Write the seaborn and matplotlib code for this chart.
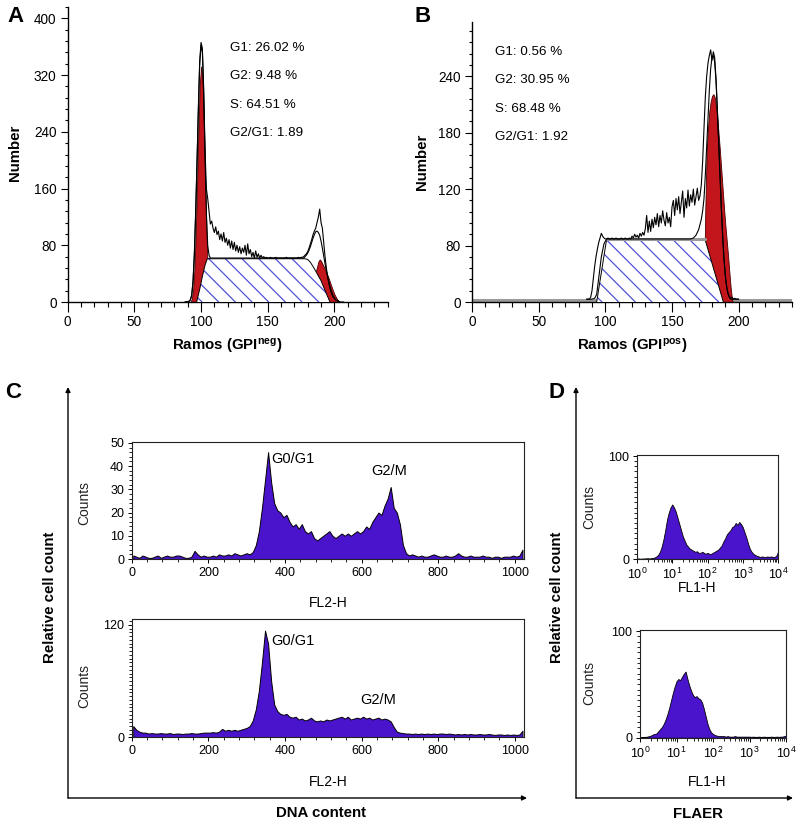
import matplotlib
matplotlib.use("Agg")
import matplotlib.pyplot as plt
import numpy as np
import pandas as pd
import seaborn as sns
from matplotlib.patches import FancyArrowPatch
from matplotlib.ticker import FixedLocator, MultipleLocator, LogLocator, NullFormatter, LogFormatterMathtext

W, H = 800, 825
RED = "#c3161c"
PURPLE = "#4a14cc"
HATCH = "#5252d6"

# ---------------- panel A: Ramos GPI-neg, ModFit histogram ----------------
a_channel = np.arange(88, 208)
a_raw = [0, 0, 0, 1, 3, 10, 30, 70, 130, 200,
         275, 340, 366, 358, 300, 215, 160, 146, 128, 110,
         114, 104, 98, 106, 95, 100, 88, 96, 86, 98,
         84, 90, 80, 88, 76, 86, 74, 84, 72, 80,
         70, 78, 68, 76, 70, 80, 66, 82, 68, 74,
         64, 70, 62, 72, 63, 68, 62, 66, 62, 64,
         62, 63, 62, 62, 63, 62, 62, 62, 63, 62,
         62, 62, 62, 62, 62, 62, 63, 62, 62, 62,
         62, 62, 62, 62, 62, 63, 62, 63, 63, 64,
         66, 68, 71, 76, 82, 88, 95, 100, 104, 112,
         120, 131, 112, 104, 84, 64, 48, 35, 25, 17,
         11, 7, 5, 3, 2, 1, 0, 0, 0, 0]
a_fit_x = [88, 91, 92, 93, 94, 95, 96, 97, 98, 99, 100, 101, 102, 103, 104, 105, 106, 107,
           177, 178, 179, 180, 181, 182, 183, 184, 185, 186, 187, 188, 189, 190,
           191, 192, 193, 194, 195, 196, 197, 198, 199, 200, 201, 202, 203, 204]
a_fit_y = [0, 1, 3, 9, 28, 65, 125, 195, 270, 335, 362, 352, 295, 205, 125, 80, 66, 62,
           62, 64, 66, 69, 73, 78, 84, 90, 95, 99, 100, 98, 94, 86,
           76, 65, 54, 44, 35, 27, 20, 14, 9, 6, 3, 2, 1, 0]
a_g1_x = [92, 93, 94, 95, 96, 97, 98, 99, 100, 101, 102, 103, 104, 104.7, 106, 106.1]
a_g1_y = [0, 4, 16, 45, 95, 165, 240, 305, 332, 318, 262, 180, 105, 62, 62, 0]
a_g2_x = [180, 182, 184, 186, 188, 189, 190, 192, 194, 196, 198, 200, 202, 204]
a_g2_y = [0, 6, 22, 42, 57, 60, 58, 50, 42, 32, 21, 11, 4, 0]
a_s_x = [96.7, 99, 101, 103, 104.7, 178, 180, 182, 185, 190, 194, 196.7]
a_s_y = [0, 18, 36, 52, 61, 61, 60, 56, 47, 30, 12, 0]
a_stats = ["G1: 26.02 %", "G2: 9.48 %", "S: 64.51 %", "G2/G1: 1.89"]

# ---------------- panel B: Ramos GPI-pos ----------------
b_channel = np.arange(86, 201)
b_raw = [3, 3, 3, 5, 12, 25, 38, 48, 56, 63,
         68, 73, 70, 68, 67, 67, 68, 67, 67, 68,
         67, 67, 68, 67, 67, 67, 68, 67, 67, 68,
         67, 67, 68, 67, 70, 68, 72, 69, 71, 68,
         73, 70, 74, 71, 78, 92, 74, 86, 75, 88,
         79, 90, 82, 94, 80, 92, 84, 97, 87, 81,
         95, 84, 90, 80, 101, 108, 92, 110, 98, 112,
         94, 106, 118, 90, 110, 100, 119, 102, 114, 106,
         120, 103, 112, 121, 108, 113, 125, 150, 185, 218,
         240, 254, 262, 268, 257, 266, 260, 238, 205, 170,
         135, 100, 70, 46, 28, 16, 9, 6, 4, 5,
         3, 4, 3, 3, 3]
b_fit_x = [86, 90, 92, 93.5, 95, 97, 99, 101, 164, 166, 168, 170, 172,
           173, 174, 175, 176, 177, 178, 179, 180, 181, 182, 183, 184, 185, 186,
           187, 188, 189, 190, 191, 192, 193, 194, 195, 200]
b_fit_y = [3, 3, 4, 8, 25, 48, 62, 67, 67, 68, 71, 77, 88,
           97, 110, 135, 165, 195, 225, 248, 260, 262, 255, 235, 205, 170, 135,
           100, 70, 46, 28, 16, 9, 5, 3, 3, 3]
b_g2_x = [174.5, 174.6, 175, 176, 177, 178, 179, 180, 181, 182, 183, 184, 185, 186,
          187, 188, 189, 190, 191, 192, 193, 194, 195, 195.5]
b_g2_y = [0, 67, 100, 160, 185, 203, 213, 219, 221, 218, 208, 195, 178, 160,
          140, 120, 100, 82, 66, 50, 32, 15, 3, 0]
b_s_x = [93.5, 101, 174.7, 188.5]
b_s_y = [0, 67, 67, 0]
b_stats = ["G1: 0.56 %", "G2: 30.95 %", "S: 68.48 %", "G2/G1: 1.92"]
b_ytick_values = [0, 60, 120, 180, 240]
b_ytick_labels = ["0", "80", "120", "180", "240"]

# ---------------- panel C: DNA content (FL2-H), 8-channel bins ----------------
c_channel = np.arange(0, 1024, 8)
c_top = [1.5, 1, 0.5, 1.5, 1, 0.5, 0.5, 1, 1.5, 0.5,
         1, 1.5, 1, 1, 1.5, 1.5, 1, 0.5, 0.5, 1,
         3.5, 2, 1, 1.5, 1, 1, 1.5, 1, 2, 1.5,
         1.5, 2, 1.5, 2.5, 2, 1.5, 2, 2.5, 2, 3,
         6, 12, 22, 34, 46, 33, 24, 21, 20, 18,
         19, 16, 14, 15, 13, 15, 12, 11, 12, 9,
         8, 9, 10, 11, 12, 10, 9, 10, 11, 10,
         11, 10, 11, 12, 11, 12, 14, 13, 16, 18,
         20, 19, 23, 26, 31, 22, 20, 15, 6, 2.5,
         1.5, 2, 1.5, 1, 1.5, 1, 1, 1.5, 2, 1.5,
         1, 1, 1.5, 1, 1, 1.5, 2.5, 1.5, 1, 1,
         1.5, 1, 1, 1, 1.5, 1, 1, 0.5, 1, 1,
         0.5, 1, 1, 1, 1.5, 1, 1.5, 4]
c_bottom = [12, 8, 6, 5, 5, 4, 4.5, 4, 4, 4.5,
            4, 4, 4.5, 3.5, 4, 4, 3.5, 4, 4, 4.5,
            4, 4, 4.5, 5, 5, 5, 5.5, 5, 6, 9,
            7, 8, 7, 8, 7, 8, 9, 10, 12, 18,
            30, 50, 80, 114, 100, 60, 35, 28, 25, 24,
            25, 22, 21, 22, 19, 20, 18, 19, 21, 18,
            17, 18, 17, 19, 18, 19, 20, 21, 22, 20,
            22, 19, 20, 21, 20, 22, 20, 21, 19, 20,
            21, 19, 20, 19, 17, 11, 6, 5, 4.5, 4,
            4, 3.5, 4, 3.5, 4, 3.5, 4, 3.5, 4, 3.5,
            4, 4, 3.5, 4, 3.5, 3, 3.5, 3, 3.5, 3,
            3.5, 3, 3, 3.5, 3, 3, 3.5, 3, 2.5, 3,
            3, 2.5, 3, 2.5, 3, 2.5, 3, 7]

# ---------------- panel D: FLAER (FL1-H), log10 channel positions ----------------
d_log = np.arange(0, 4.001, 0.05)
d_top = [0.5, 0.5, 0.3, 0.5, 0.5, 0.6, 0.8, 0.5, 0.8, 1,
         1.5, 2.5, 4, 7, 12, 19, 28, 38, 45, 50,
         53, 50, 46, 40, 34, 28, 22, 18, 14, 12,
         10, 9, 8, 7, 7.5, 6, 6, 7, 6, 5,
         6, 5, 5, 6, 7, 8, 9, 11, 13, 17,
         20, 24, 26, 28, 31, 32, 35, 33, 36, 34,
         31, 26, 21, 15, 10, 7, 5, 4, 3, 2.5,
         2, 2.5, 2, 2, 2.5, 2, 2.5, 2, 2, 3, 7]
d_bottom = [0.5, 0.5, 0.8, 0.8, 1, 1.5, 2, 3, 3.5, 4,
            6, 8, 10, 13, 17, 22, 28, 35, 42, 48,
            53, 55, 54, 57, 60, 62, 55, 49, 44, 40,
            38, 39, 37, 36, 33, 27, 20, 13, 8, 5,
            3.5, 2.5, 2, 1.5, 1.5, 1.5, 1.5, 1, 1.5, 1,
            1, 1, 1.5, 1, 1, 1, 1, 1, 1, 1,
            1, 0.8, 1, 0.8, 0.8, 1, 0.8, 0.8, 1, 0.8,
            0.8, 0.8, 1, 0.8, 0.8, 1, 0.8, 1, 1, 1.5, 2]


def fxy(x, y):
    """像素坐标 -> figure 坐标"""
    return x / W, 1 - y / H


def axes_px(fig, left, top, right, bottom):
    return fig.add_axes([left / W, 1 - bottom / H, (right - left) / W, (bottom - top) / H])


def style_modfit(ax, ymax, yticks, ylabels, yminor):
    ax.set_xlim(0, 240)
    ax.set_ylim(0, ymax)
    sns.despine(ax=ax)
    ax.xaxis.set_major_locator(FixedLocator([0, 50, 100, 150, 200]))
    ax.xaxis.set_minor_locator(MultipleLocator(10))
    ax.set_yticks(yticks)
    ax.set_yticklabels(ylabels)
    ax.yaxis.set_minor_locator(MultipleLocator(yminor))
    ax.tick_params(axis="x", which="major", length=7, width=0.8, pad=2.5, labelsize=9.8)
    ax.tick_params(axis="x", which="minor", length=3.3, width=0.8)
    ax.tick_params(axis="y", which="major", length=5, width=0.8, pad=3, labelsize=9.8)
    ax.tick_params(axis="y", which="minor", length=2.2, width=0.8)
    for side in ("left", "bottom"):
        ax.spines[side].set_linewidth(1.0)
        ax.spines[side].set_color("black")
    ax.set_xlabel("")
    ax.set_ylabel("")


def style_flow(ax):
    for side in ax.spines.values():
        side.set_linewidth(0.8)
        side.set_color("#222222")
        side.set_visible(True)
    ax.tick_params(which="major", length=3, width=0.7, pad=2.5, labelsize=9, colors="black")
    ax.tick_params(which="minor", length=2, width=0.6)
    ax.set_xlabel("")
    ax.set_ylabel("")


sns.set_theme(style="ticks")
plt.rcParams["font.family"] = ["Liberation Sans", "DejaVu Sans"]
plt.rcParams["mathtext.fontset"] = "custom"
plt.rcParams["mathtext.rm"] = "Liberation Sans"
plt.rcParams["mathtext.bf"] = "Liberation Sans:bold"
plt.rcParams["mathtext.it"] = "Liberation Sans:italic"
plt.rcParams["hatch.linewidth"] = 0.9
for key in ("text.color", "axes.labelcolor", "xtick.color", "ytick.color", "axes.edgecolor"):
    plt.rcParams[key] = "black"

fig = plt.figure(figsize=(W / 100, H / 100), dpi=100)

# ---- A ----
ax_a = axes_px(fig, 67.7, 7, 387.7, 302)
ax_a.fill_between(a_g1_x, a_g1_y, color=RED, edgecolor="#4a0000", linewidth=0.6, zorder=2)
ax_a.fill_between(a_g2_x, a_g2_y, color=RED, edgecolor="#4a0000", linewidth=0.6, zorder=2)
ax_a.fill_between(a_s_x, a_s_y, facecolor="white", edgecolor=HATCH, hatch="\\\\", linewidth=0, zorder=3)
ax_a.plot(a_s_x, a_s_y, color="black", linewidth=0.7, zorder=3.5)
sns.lineplot(x=a_fit_x, y=a_fit_y, color="black", linewidth=0.8, estimator=None, sort=False, ax=ax_a, zorder=4)
sns.lineplot(x=a_channel, y=a_raw, color="black", linewidth=0.8, estimator=None, ax=ax_a, zorder=5)
style_modfit(ax_a, 416, [0, 80, 160, 240, 320, 400], ["0", "80", "160", "240", "320", "400"], 16)
for i, s in enumerate(a_stats):
    fig.text(*fxy(230, 48 + 28.3 * i), s, fontsize=9.6, ha="left", va="center")

# ---- B ----
ax_b = axes_px(fig, 472, 21.7, 792, 302)
ax_b.plot([0, 240], [2, 2], color="#9a9a9a", linewidth=2.2, zorder=1.5, solid_capstyle="butt")
ax_b.fill_between(b_g2_x, b_g2_y, color=RED, edgecolor="#4a0000", linewidth=0.6, zorder=2)
ax_b.fill_between(b_s_x, b_s_y, facecolor="white", edgecolor=HATCH, hatch="\\\\", linewidth=0, zorder=3)
ax_b.plot(b_s_x, b_s_y, color="black", linewidth=0.7, zorder=3.5)
ax_b.plot(b_s_x[1:3], b_s_y[1:3], color="#9a9a9a", linewidth=2.2, zorder=3.6)
sns.lineplot(x=b_fit_x, y=b_fit_y, color="black", linewidth=0.8, estimator=None, sort=False, ax=ax_b, zorder=4)
sns.lineplot(x=b_channel, y=b_raw, color="black", linewidth=0.8, estimator=None, ax=ax_b, zorder=5)
style_modfit(ax_b, 298, b_ytick_values, b_ytick_labels, 12)
for i, s in enumerate(b_stats):
    fig.text(*fxy(495, 52 + 28.3 * i), s, fontsize=9.6, ha="left", va="center")

# ---- C ----
for (top, bottom, counts, ymax, ymajor, yminor, lab_g1, lab_g2) in [
    (441.7, 559, c_top, 50.5, [0, 10, 20, 30, 40, 50], 2, (363, 43), (672, 38)),
    (619, 737.3, c_bottom, 126.4, [0, 120], 4, (363, 103), (643, 40)),
]:
    ax = axes_px(fig, 131.7, top, 524, bottom)
    hist_df = pd.DataFrame({"channel": c_channel + 4, "counts": counts})
    sns.histplot(data=hist_df, x="channel", weights="counts", binwidth=8, binrange=(0, 1024),
                 element="poly", fill=True, color=PURPLE, alpha=1, edgecolor="black",
                 linewidth=0.7, ax=ax)
    ax.set_xlim(0, 1024)
    ax.set_ylim(0, ymax)
    ax.set_xticks([0, 200, 400, 600, 800, 1000])
    ax.xaxis.set_minor_locator(MultipleLocator(40))
    ax.set_yticks(ymajor)
    ax.yaxis.set_minor_locator(MultipleLocator(yminor))
    style_flow(ax)
    ax.text(*lab_g1, "G0/G1", fontsize=10.5, ha="left", va="center")
    ax.text(*lab_g2, "G2/M", fontsize=10.5, ha="center", va="center")

for y in (503, 686):
    fig.text(*fxy(84, y), "Counts", fontsize=10, rotation=90, ha="center", va="center", color="#222222")
for y in (603, 782):
    fig.text(*fxy(328, y), "FL2-H", fontsize=10, ha="center", va="center")

# ---- D ----
for (left, top, right, bottom, counts) in [
    (637, 455, 778, 559, d_top),
    (640, 630, 786, 737.7, d_bottom),
]:
    ax = axes_px(fig, left, top, right, bottom)
    ax.fill_between(10 ** d_log, counts, facecolor=PURPLE, edgecolor="black", linewidth=0.6)
    ax.set_xscale("log")
    ax.set_xlim(1, 1e4)
    ax.set_ylim(0, 101)
    ax.xaxis.set_major_locator(LogLocator(base=10, numticks=10))
    ax.xaxis.set_major_formatter(LogFormatterMathtext())
    ax.xaxis.set_minor_locator(LogLocator(base=10, subs=np.arange(2, 10), numticks=10))
    ax.xaxis.set_minor_formatter(NullFormatter())
    ax.set_yticks([0, 100])
    ax.yaxis.set_minor_locator(MultipleLocator(5))
    style_flow(ax)

for y in (507, 683):
    fig.text(*fxy(589, y), "Counts", fontsize=10, rotation=90, ha="center", va="center", color="#222222")
fig.text(*fxy(697, 588), "FL1-H", fontsize=10, ha="center", va="center")
fig.text(*fxy(707, 782), "FL1-H", fontsize=10, ha="center", va="center")

# ---- 外框箭头与大标签 ----
for (x0, x1) in [(68, 527), (576, 793)]:
    for end in [(x0, 387), (x1, 798)]:
        fig.add_artist(FancyArrowPatch(fxy(x0, 798), fxy(*end), transform=fig.transFigure,
                                       arrowstyle="-|>", mutation_scale=7, linewidth=1.0,
                                       color="black", shrinkA=0, shrinkB=0))

bold = dict(fontsize=10.8, fontweight="bold", ha="center", va="center")
fig.text(*fxy(15, 153), "Number", rotation=90, **bold)
fig.text(*fxy(422, 162), "Number", rotation=90, **bold)
fig.text(*fxy(227, 346), r"Ramos (GPI$^{\mathbf{neg}}$)", **bold)
fig.text(*fxy(632, 346), r"Ramos (GPI$^{\mathbf{pos}}$)", **bold)
fig.text(*fxy(50, 597), "Relative cell count", rotation=90, **bold)
fig.text(*fxy(557, 597), "Relative cell count", rotation=90, **bold)
fig.text(*fxy(321, 813), "DNA content", **bold)
fig.text(*fxy(698, 814), "FLAER", **bold)

letters = dict(fontsize=16, fontweight="bold", ha="center", va="center")
for letter, x, y in [("A", 15, 17), ("B", 423, 17), ("C", 13, 393), ("D", 556, 393)]:
    fig.text(*fxy(x, y), letter, **letters)

fig.savefig("out.png", dpi=100)
